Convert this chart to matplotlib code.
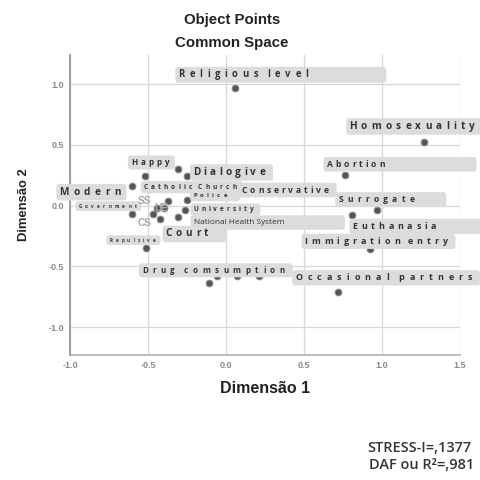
import matplotlib
matplotlib.use("Agg")
import matplotlib.pyplot as plt
from matplotlib.patches import FancyBboxPatch
from matplotlib.transforms import IdentityTransform, Bbox

# object points, common space
names = ["Religious level", "Homosexuality", "Abortion", "Surrogate", "Euthanasia",
         "Immigration entry", "Occasional partners", "Drug comsumption", "Repulsive",
         "Happy", "Catholic Church", "Dialogive", "Modern", "SS", "Police",
         "Conservative", "UE", "University", "Government", "CS", "Court",
         "National Health System", "", "", ""]
dim1 = [0.06, 1.27, 0.76, 0.97, 0.81, 0.92, 0.72, -0.11, -0.51,
        -0.52, -0.31, -0.25, -0.60, -0.37, -0.25,
        -0.40, -0.44, -0.26, -0.60, -0.47, -0.42,
        -0.31, -0.06, 0.07, 0.21]
dim2 = [0.97, 0.52, 0.25, -0.04, -0.08, -0.36, -0.71, -0.64, -0.35,
        0.24, 0.30, 0.24, 0.16, 0.04, 0.05,
        -0.02, -0.02, -0.04, -0.07, -0.07, -0.11,
        -0.09, -0.58, -0.58, -0.58]

xticks = [-1.0, -0.5, 0.0, 0.5, 1.0, 1.5]
yticks = [-1.0, -0.5, 0.0, 0.5, 1.0]
fit_text = ["STRESS-I=,1377", "DAF ou R\u00b2=,981"]

# label placement: offset from point (px), font size, text width (px), extra box width, kind
layout = {
    "Religious level": (-57, 13, 9.5, 130, 75, "box"),
    "Homosexuality": (-75, 16, 10, 126, 10, "box"),
    "Abortion": (-18, 11, 8.5, 58, 89, "box"),
    "Surrogate": (-39, 11, 8.5, 76, 29, "box"),
    "Euthanasia": (0, -11, 9, 84, 50, "box"),
    "Immigration entry": (-65, 8, 9, 143, 5, "box"),
    "Occasional partners": (-43, 14, 9, 177, 5, "box"),
    "Drug comsumption": (-67, 13, 8, 143, 5, "box"),
    "Repulsive": (-37, 8, 4.5, 46, 2, "box"),
    "Happy": (-14, 14, 8, 38, 3, "box"),
    "Catholic Church": (-34, -18, 6.5, 93, 3, "box"),
    "Dialogive": (6, 4, 10, 72, 5, "box"),
    "Modern": (-73, -6, 10, 61, 3, "box"),
    "SS": (-31, 0, 10, 0, 0, "grey"),
    "Police": (6, 4, 6, 34, 10, "box"),
    "Conservative": (78, 18, 8.5, 87, 5, "box"),
    "UE": (-3, 0, 10, 0, 0, "grey"),
    "University": (8, 1, 6.5, 60, 4, "box"),
    "Government": (-54, 8, 4.5, 58, 2, "box"),
    "CS": (-15, -9, 10, 0, 0, "grey"),
    "Court": (5, -15, 10, 43, 15, "box"),
    "National Health System": (16, -6, 8.3, 0, 58, "plain"),
}

plt.rcParams['font.family'] = ['Liberation Sans', 'DejaVu Sans']
label_font = ['Open Sans', 'DejaVu Sans']

fig = plt.figure(figsize=(480 / 72, 480 / 72), dpi=72)
ax = fig.add_axes([70 / 480, 125 / 480, 390 / 480, 300 / 480])

ax.scatter(dim1, dim2, s=45, c='#555555', edgecolors='#8a8a8a', linewidths=1, zorder=2)

ax.set_xlim(-1.0, 1.5)
ax.set_ylim(-1.23, 1.24)
ax.set_xticks(xticks)
ax.set_yticks(yticks)
ax.set_xticklabels(["%.1f" % v for v in xticks])
ax.set_yticklabels(["%.1f" % v for v in yticks])
ax.tick_params(length=0, labelsize=9, labelcolor='#8a8a8a', pad=6)
for lab in ax.get_xticklabels() + ax.get_yticklabels():
    lab.set_fontweight('bold')
ax.grid(True, color='#d8d8d8', linewidth=1.3)
ax.set_axisbelow(True)
for s in ['top', 'right']:
    ax.spines[s].set_visible(False)
ax.spines['left'].set_color('#a0a0a0')
ax.spines['left'].set_linewidth(2)
ax.spines['bottom'].set_color('#a8a8a8')
ax.spines['bottom'].set_linewidth(1.5)

ax.set_xlabel("Dimens\u00e3o 1", fontsize=16, fontweight='bold', color='#222222', labelpad=11)
ax.set_ylabel("Dimens\u00e3o 2", fontsize=13, fontweight='bold', color='#222222', labelpad=18)

r = fig.canvas.get_renderer()


def char_width(ch, size):
    t = fig.text(0, 0, ch, fontsize=size, fontweight='bold', family=label_font)
    w = t.get_window_extent(r).width
    t.remove()
    return w


boxes = []
for n, x, y in zip(names, dim1, dim2):
    if n == "":
        continue
    dx, dy, size, width, extra, kind = layout[n]
    if kind == "grey":
        ax.annotate(n, (x, y), xytext=(dx, dy), textcoords='offset points',
                    ha='left', va='center', fontsize=size, color='#a5a5a5',
                    fontweight='bold', annotation_clip=False, zorder=5)
        continue
    if kind == "plain":
        t = ax.annotate(n, (x, y), xytext=(dx, dy), textcoords='offset points',
                        ha='left', va='center', fontsize=size, color='#333333',
                        family=label_font, annotation_clip=False, zorder=5)
        boxes.append(([t], extra))
        continue
    # letter-spaced label: spread the glyphs over the measured width
    widths = [0.0 if ch == " " else char_width(ch, size) for ch in n]
    gap = (width - sum(widths)) / (len(n) - 1)
    cur = dx
    parts = []
    for ch, w in zip(n, widths):
        if ch != " ":
            t = ax.annotate(ch, (x, y), xytext=(cur, dy), textcoords='offset points',
                            ha='left', va='center', fontsize=size, color='#333333',
                            family=label_font, fontweight='bold',
                            annotation_clip=False, zorder=5)
            parts.append(t)
        cur += w + gap
    boxes.append((parts, extra))

fig.canvas.draw()
for parts, extra in boxes:
    bb = Bbox.union([p.get_window_extent(r) for p in parts])
    h = max(bb.height, parts[0].get_fontsize() * 1.25)
    cy = (bb.y0 + bb.y1) / 2
    p = FancyBboxPatch((bb.x0 - 3, cy - h / 2 - 2), bb.width + extra + 6, h + 4,
                       boxstyle='round,pad=0,rounding_size=3',
                       transform=IdentityTransform(), fc='#dcdcdc', ec='none', zorder=4)
    ax.add_patch(p)
    p.set_clip_on(False)

fig.text(232 / 480, 1 - 20 / 480, "Object Points", ha='center', va='center',
         fontsize=15, fontweight='bold', color='#222222')
fig.text(232 / 480, 1 - 43 / 480, "Common Space", ha='center', va='center',
         fontsize=15, fontweight='bold', color='#222222')

fig.text(367 / 480, 1 - 448 / 480, fit_text[0], ha='left', va='center',
         fontsize=14.5, color='#333333', fontweight='semibold', family=label_font)
fig.text(369 / 480, 1 - 465 / 480, fit_text[1], ha='left', va='center',
         fontsize=14.5, color='#333333', fontweight='semibold', family=label_font)

fig.savefig("out.png", dpi=72)
